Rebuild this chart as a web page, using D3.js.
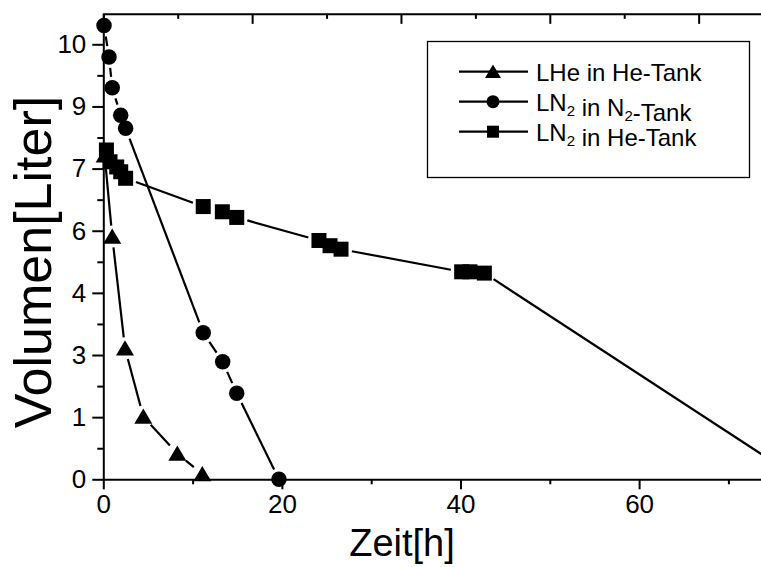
<!DOCTYPE html>
<html>
<head>
<meta charset="utf-8">
<script src="https://cdn.jsdelivr.net/npm/d3@7/dist/d3.min.js"></script>
<style>
  html, body { margin: 0; padding: 0; background: #fff; }
  svg { display: block; }
  text { font-family: "Liberation Sans", Arial, sans-serif; fill: #000; }
</style>
</head>
<body>
<svg id="chart" width="761" height="567"></svg>
<script>
// ---------- data ----------
const lheX = [0.15, 1.0, 2.43, 4.48, 8.29, 11.09];
const lheY = [7.45, 5.58, 3.01, 1.44, 0.59, 0.12];

const n2X = [0.08, 0.64, 1.0, 1.95, 2.5, 11.19, 13.37, 14.94, 19.67];
const n2Y = [10.43, 9.71, 9.0, 8.37, 8.07, 3.37, 2.70, 1.98, 0.0];

const heN2X = [0.35, 0.75, 1.5, 1.95, 2.5, 11.19, 13.33, 14.94, 24.15, 25.39, 26.62, 40.13, 41.06, 42.67, 78.0];
const heN2Y = [7.57, 7.3, 7.18, 7.07, 6.92, 6.27, 6.15, 6.02, 5.49, 5.37, 5.29, 4.77, 4.77, 4.74, 0.0];

const xTickValues = [0, 20, 40, 60];
const xMinorValues = [10, 30, 50, 70];
const yTickValues = [0, 1.4286, 2.8571, 4.2857, 5.7143, 7.1429, 8.5714, 10];
const yTickLabels = ["0", "1", "3", "4", "6", "7", "9", "10"];
const yMinorValues = [0.7143, 2.1429, 3.5714, 5.0, 6.4286, 7.8571, 9.2857];
const topTickValues = [8.333, 16.667, 25, 33.333, 41.667, 50, 58.333, 66.667, 75];

const seriesNames = ["LHe in He-Tank", "LN2 in N2-Tank", "LN2 in He-Tank"];

// ---------- layout ----------
const svg = d3.select("#chart");
const x0 = 103.3, pxPerH = 8.93;
const yBase = 479.3, pxPerL = 43.5;
const x = d3.scaleLinear().domain([0, 80]).range([x0, x0 + 80 * pxPerH]);
const y = d3.scaleLinear().domain([0, 10.7]).range([yBase, yBase - 10.7 * pxPerL]);

const tickFont = "26px";

// bottom axis
svg.append("g").attr("transform", `translate(0,${yBase})`)
  .call(d3.axisBottom(x).tickValues(xTickValues).tickSize(10).tickSizeOuter(0).tickPadding(5));
svg.append("g").attr("transform", `translate(0,${yBase})`)
  .call(d3.axisBottom(x).tickValues(xMinorValues).tickSize(5).tickSizeOuter(0).tickFormat(""))
  .select(".domain").remove();

// left axis
svg.append("g").attr("transform", `translate(${x0},0)`)
  .call(d3.axisLeft(y).tickValues(yTickValues).tickFormat((d, i) => yTickLabels[i]).tickSize(11).tickSizeOuter(0).tickPadding(6));
svg.append("g").attr("transform", `translate(${x0},0)`)
  .call(d3.axisLeft(y).tickValues(yMinorValues).tickSize(6).tickSizeOuter(0).tickFormat(""))
  .select(".domain").remove();

// top axis (inward ticks, no labels)
const gT = svg.append("g").attr("transform", `translate(0,${y(10.7)})`)
  .call(d3.axisTop(x).tickValues(topTickValues).tickSizeOuter(0).tickFormat("")
    .tickSize(-10));
gT.selectAll(".tick line").attr("y2", (d, i) => (i % 2 === 1 ? 10 : 5));

svg.selectAll(".domain").attr("stroke", "#000").attr("stroke-width", 2);
svg.selectAll(".tick line").attr("stroke", "#000").attr("stroke-width", 2);
svg.selectAll(".tick text").style("font-size", tickFont).style("font-family", "'Liberation Sans', Arial, sans-serif").attr("fill", "#000");

// axis titles
svg.append("text").attr("x", 402).attr("y", 556).attr("text-anchor", "middle")
  .style("font-size", "38px").text("Zeit[h]");
svg.append("text").attr("transform", "translate(51,262) rotate(-90)").attr("text-anchor", "middle")
  .style("font-size", "52px").text("Volumen[Liter]");

// ---------- series ----------
const gap = 11;
function drawGappedLine(g, xs, ys) {
  const pts = xs.map((v, i) => [x(v), y(ys[i])]);
  for (let i = 0; i < pts.length - 1; i++) {
    const [ax, ay] = pts[i], [bx, by] = pts[i + 1];
    const dx = bx - ax, dy = by - ay, L = Math.hypot(dx, dy);
    if (L <= 2 * gap + 1) continue;
    const ux = dx / L, uy = dy / L;
    g.append("line")
      .attr("x1", ax + ux * gap).attr("y1", ay + uy * gap)
      .attr("x2", bx - ux * gap).attr("y2", by - uy * gap)
      .attr("stroke", "#000").attr("stroke-width", 2.2);
  }
}
const triPath = s => `M0,${-s * 0.45}L${s * 0.5},${s * 0.4}L${-s * 0.5},${s * 0.4}Z`;
function drawMarkers(g, xs, ys, type, size) {
  xs.forEach((v, i) => {
    const cx = x(v), cy = y(ys[i]);
    if (type === "circle") {
      g.append("circle").attr("cx", cx).attr("cy", cy).attr("r", size / 2).attr("fill", "#000");
    } else if (type === "square") {
      g.append("rect").attr("x", cx - size / 2).attr("y", cy - size / 2).attr("width", size).attr("height", size).attr("fill", "#000");
    } else {
      g.append("path").attr("transform", `translate(${cx},${cy})`).attr("d", triPath(size)).attr("fill", "#000");
    }
  });
}

const plot = svg.append("g");
drawGappedLine(plot, lheX, lheY);
drawGappedLine(plot, n2X, n2Y);
drawGappedLine(plot, heN2X, heN2Y);
drawMarkers(plot, lheX, lheY, "tri", 18);
drawMarkers(plot, n2X, n2Y, "circle", 15.5);
drawMarkers(plot, heN2X, heN2Y, "square", 15);

// ---------- legend ----------
const leg = svg.append("g");
leg.append("rect").attr("x", 427.5).attr("y", 41.5).attr("width", 322).attr("height", 136)
  .attr("fill", "#fff").attr("stroke", "#000").attr("stroke-width", 1.3);
const rows = [71.7, 101.7, 131.7];
const types = ["tri", "circle", "square"];
rows.forEach((ry, i) => {
  leg.append("line").attr("x1", 459).attr("x2", 528).attr("y1", ry).attr("y2", ry)
    .attr("stroke", "#000").attr("stroke-width", 2.2);
  const g = leg.append("g");
  if (types[i] === "tri") g.append("path").attr("transform", `translate(493,${ry})`).attr("d", triPath(16)).attr("fill", "#000");
  if (types[i] === "circle") g.append("circle").attr("cx", 493).attr("cy", ry).attr("r", 6.5).attr("fill", "#000");
  if (types[i] === "square") g.append("rect").attr("x", 487).attr("y", ry - 6).attr("width", 12).attr("height", 12).attr("fill", "#000");
});
function legendText(ry, name) {
  const t = leg.append("text").attr("x", 536).attr("y", ry + 9).style("font-size", "24px");
  const parts = name.split(/(N2)/);
  parts.forEach(p => {
    if (p === "N2") {
      t.append("tspan").text("N");
      t.append("tspan").attr("dy", 5).style("font-size", "15px").text("2");
      t.append("tspan").attr("dy", -5).text("");
    } else if (p.length) {
      t.append("tspan").text(p);
    }
  });
}
seriesNames.forEach((n, i) => legendText(rows[i], n));
</script>
</body>
</html>
